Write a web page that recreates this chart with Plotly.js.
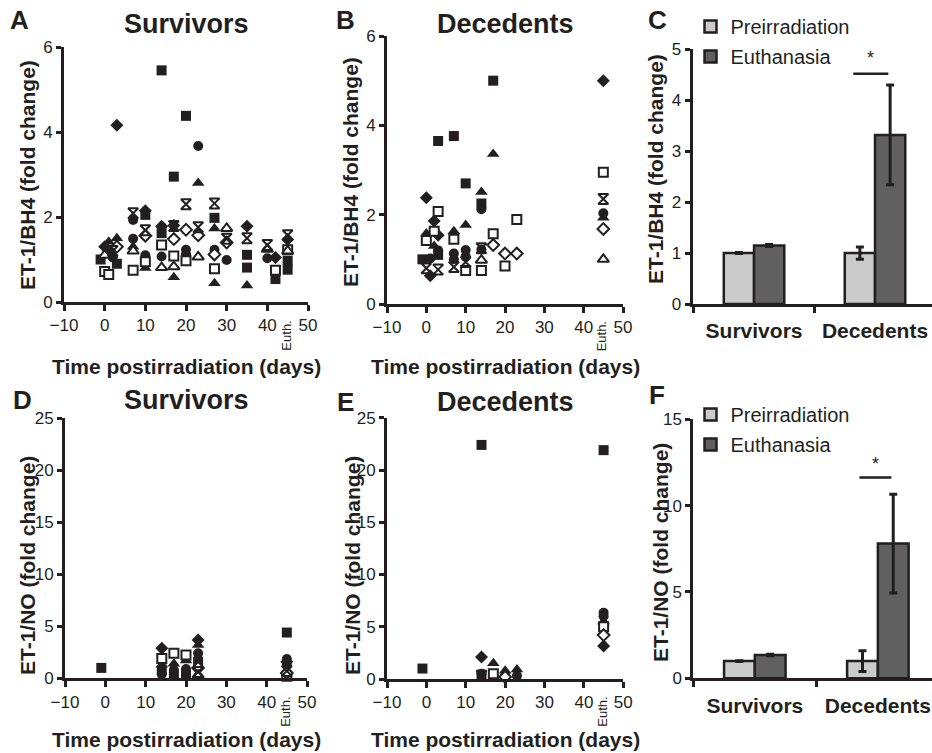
<!DOCTYPE html>
<html><head><meta charset="utf-8">
<script src="https://cdn.plot.ly/plotly-3.0.1.min.js"></script>
<style>html,body{margin:0;padding:0;background:#fff;}#chart{width:932px;height:753px;}</style>
</head><body><div id="chart"></div>
<script>
// ---------------- DATA ----------------
// Panel A: ET-1/BH4, survivors (day, fold change, animal symbol)
const bh4SurvDay = [-1,0,1,1,3,0,2,3,2,0,3,1, 3, 7,7,7,7,7,7, 10,10,10,10,10,10,10, 14,14,14,14,14,14, 17,17,17,17,17,17,17, 20,20,20,20,20,20, 23,23,23,23,23, 27,27,27,27,27,27,27, 30,30,30,30, 35,35,35,35,35, 40,40,40, 42,42,42, 45,45,45,45,45,45];
const bh4SurvVal = [1.0,0.72,0.65,1.42,1.5,1.3,1.2,0.9,1.05,1.1,1.3,1.2, 4.16, 2.09,1.93,1.49,1.3,1.2,0.75, 2.15,2.05,1.69,1.56,1.1,0.95,0.8, 5.45,1.78,1.62,1.34,1.07,0.81, 2.95,1.8,1.79,1.48,1.08,0.83,0.58, 4.38,2.3,1.7,1.23,0.97,1.05, 3.67,2.8,1.76,1.57,1.06, 2.32,1.98,1.73,1.23,1.12,0.78,0.44, 1.73,1.49,1.4,0.99, 1.78,1.5,1.11,0.81,0.39, 1.34,1.24,1.03, 1.05,0.75,0.54, 1.57,1.47,1.23,1.2,0.97,0.76];
const bh4SurvId  = ['sq','osq','osq','tr','tr','di','ast','sq','ci','otr','odi','di', 'di', 'ast','ci','ci','tr','otr','osq', 'di','sq','ast','odi','ci','osq','tr', 'sq','di','sq','osq','ci','otr', 'sq','di','ast','odi','osq','otr','tr', 'sq','ast','odi','ci','osq','sq', 'ci','tr','ast','odi','otr', 'ast','sq','tr','ci','odi','osq','tr', 'otr','ast','odi','ci', 'di','ast','sq','sq','tr', 'ast','otr','ci', 'di','osq','sq', 'ast','di','osq','otr','sq','sq'];

// Panel B: ET-1/BH4, decedents
const bh4DecDay = [-1,1,0,0,0,0,1,2,2,3,3,3,3,3,3,2, 7,7,7,7,7,7, 10,10,10,10,10,10, 14,14,14,14,14,14,14, 17,17,17,17, 20,20, 23,23, 45,45,45,45,45,45,45];
const bh4DecVal = [1.0,1.02,2.38,1.58,1.42,0.8,0.63,1.86,1.63,2.07,1.54,3.65,1.2,1.1,0.77,1.3, 3.76,1.63,1.45,1.13,1.0,0.83, 2.7,1.77,1.21,1.06,0.94,0.75, 2.51,2.25,2.12,1.25,1.22,0.98,0.75, 5.0,3.36,1.57,1.32, 1.13,0.85, 1.89,1.13, 5.0,2.95,2.35,2.03,1.93,1.68,1.0];
const bh4DecId  = ['sq','ci','di','tr','osq','ast','di','di','osq','osq','di','sq','ci','sq','ast','tr', 'sq','tr','osq','ci','ci','ast', 'sq','tr','ci','ci','ast','osq', 'tr','sq','ci','ast','ci','otr','osq', 'sq','tr','osq','odi', 'odi','osq', 'osq','odi', 'di','osq','ast','ci','tr','odi','otr'];

// Panel D: ET-1/NO, survivors
const noSurvDay = [-1, 14,14,14,14,14, 17,17,17,17, 20,20,20,20, 23,23,23,23,23,23,23, 45,45,45,45,45,45,45];
const noSurvVal = [1.0, 2.9,1.9,1.3,0.8,0.4, 2.4,1.4,0.8,0.3, 2.24,1.7,0.9,0.3, 3.68,3.2,2.4,1.6,1.0,0.6,0.3, 4.4,1.85,1.6,1.3,0.7,0.5,0.2];
const noSurvId  = ['sq', 'di','osq','tr','sq','ci', 'osq','tr','ci','sq', 'osq','tr','ci','sq', 'di','tr','ci','sq','odi','ast','otr', 'sq','ci','di','ci','ast','odi','osq'];

// Panel E: ET-1/NO, decedents
const noDecDay = [-1, 14,14,14,14,14, 17,17,17, 20,20,20, 23,23, 45,45,45,45,45,45,45];
const noDecVal = [1.0, 22.4,2.1,0.5,0.4,0.3, 1.5,0.5,0.3, 0.8,0.3,0.2, 0.9,0.3, 21.9,6.35,6.0,5.5,5.0,4.2,3.15];
const noDecId  = ['sq', 'sq','di','ci','sq','ast', 'tr','osq','ci', 'tr','ci','odi', 'tr','ci', 'sq','ci','ci','tr','osq','odi','di'];

// Panels C and F: means with error
const groups = ['Survivors', 'Decedents'];
const bh4Pre = [1.0, 1.0];   const bh4PreErr = [0.01, 0.12];
const bh4Eut = [1.15, 3.32]; const bh4EutErr = [0.02, 0.98];
const noPre  = [1.0, 1.0];   const noPreErr  = [0.02, 0.6];
const noEut  = [1.35, 7.8];  const noEutErr  = [0.04, 2.86];
const seriesNames = ['Preirradiation', 'Euthanasia'];
const xTicks = [-10, 0, 10, 20, 30, 40, 50];

// ---------------- STYLE ----------------
const FF = '"Liberation Sans", Arial, Helvetica, sans-serif';
const INK = '#231f20';
const W = 932, H = 753;
const px = v => v / W, py = v => 1 - v / H;

const symStyle = {
  sq:  {symbol: 'square', size: 10, color: INK, line: {width: 0}},
  di:  {symbol: 'diamond', size: 10, color: INK, line: {width: 0}},
  ci:  {symbol: 'circle', size: 10, color: INK, line: {width: 0}},
  tr:  {symbol: 'triangle-up', size: 11, color: INK, line: {width: 0}},
  osq: {symbol: 'square', size: 9, color: 'white', line: {color: INK, width: 2}},
  odi: {symbol: 'diamond', size: 9, color: 'white', line: {color: INK, width: 2}},
  otr: {symbol: 'triangle-up', size: 10, color: 'white', line: {color: INK, width: 2}},
  ast: {symbol: 'hourglass-open', size: 10, color: INK, line: {color: INK, width: 2}}
};
const symOrder = ['sq', 'di', 'ci', 'tr', 'osq', 'odi', 'otr', 'ast'];

function scatterTraces(days, vals, ids, xa, ya) {
  const out = [];
  symOrder.forEach(k => {
    const xs = [], ys = [];
    ids.forEach((id, i) => { if (id === k) { xs.push(days[i]); ys.push(vals[i]); } });
    if (xs.length) out.push({type: 'scatter', mode: 'markers', x: xs, y: ys, xaxis: xa, yaxis: ya,
      marker: symStyle[k], showlegend: false, cliponaxis: false, hoverinfo: 'x+y'});
  });
  return out;
}

function barTraces(pre, preErr, eut, eutErr, xa, ya, leg, grpSuffix) {
  const common = {type: 'bar', x: groups, xaxis: xa, yaxis: ya, legend: leg};
  return [
    Object.assign({}, common, {name: seriesNames[0], y: pre, legendgroup: 'p' + grpSuffix,
      marker: {color: '#cbcbcb', line: {color: INK, width: 2.5}},
      error_y: {type: 'data', array: preErr, visible: true, color: INK, thickness: 3, width: 4}}),
    Object.assign({}, common, {name: seriesNames[1], y: eut, legendgroup: 'e' + grpSuffix,
      marker: {color: '#606060', line: {color: INK, width: 2.5}},
      error_y: {type: 'data', array: eutErr, visible: true, color: INK, thickness: 3, width: 4}})
  ];
}

const data = [].concat(
  scatterTraces(bh4SurvDay, bh4SurvVal, bh4SurvId, 'x', 'y'),
  scatterTraces(bh4DecDay, bh4DecVal, bh4DecId, 'x2', 'y2'),
  barTraces(bh4Pre, bh4PreErr, bh4Eut, bh4EutErr, 'x3', 'y3', 'legend', 'c'),
  scatterTraces(noSurvDay, noSurvVal, noSurvId, 'x4', 'y4'),
  scatterTraces(noDecDay, noDecVal, noDecId, 'x5', 'y5'),
  barTraces(noPre, noPreErr, noEut, noEutErr, 'x6', 'y6', 'legend2', 'f')
);

const tickFont = {family: FF, size: 17, color: INK};
function timeAxis(d0, d1, anchor) {
  return {domain: [px(d0), px(d1)], range: [-10, 50], anchor: anchor, tickvals: xTicks,
    showline: true, linewidth: 3, linecolor: INK, ticks: 'outside', ticklen: 6, tickwidth: 3, tickcolor: INK,
    tickfont: tickFont, showgrid: false, zeroline: false, fixedrange: true};
}
function valAxis(y0, y1, maxV, dt, anchor) {
  return {domain: [py(y0), py(y1)], range: [0, maxV], dtick: dt, tick0: 0, anchor: anchor,
    showline: true, linewidth: 3, linecolor: INK, ticks: 'outside', ticklen: 5, tickwidth: 3, tickcolor: INK,
    tickfont: tickFont, showgrid: false, zeroline: false, fixedrange: true};
}
function catAxis(d0, r0, r1, anchor) {
  return {domain: [px(d0), 1], type: 'category', range: [r0, r1], anchor: anchor, tickson: 'boundaries',
    showline: true, linewidth: 3, linecolor: INK, ticks: 'outside', ticklen: 6, tickwidth: 3, tickcolor: INK,
    tickfont: {family: FF, size: 21, color: INK, weight: 'bold'}, ticklabelstandoff: 6,
    showgrid: false, zeroline: false, fixedrange: true};
}

const ann = [];
function txt(t, x, y, size, bold, angle, extra) {
  ann.push(Object.assign({text: bold ? '<b>' + t + '</b>' : t, x: px(x), y: py(y), xref: 'paper', yref: 'paper',
    showarrow: false, xanchor: 'center', yanchor: 'middle', textangle: angle || 0,
    font: {family: FF, size: size, color: INK}}, extra || {}));
}
// panel letters
txt('A', 19, 20, 26, true); txt('B', 345, 20, 26, true); txt('C', 657, 20, 26, true);
txt('D', 22, 400, 26, true); txt('E', 345, 402, 26, true); txt('F', 657, 395, 26, true);
// panel titles
txt('Survivors', 186, 24, 27, true); txt('Decedents', 505, 24, 27, true);
txt('Survivors', 186, 400, 27, true); txt('Decedents', 505, 402, 27, true);
// y titles
txt('ET-1/BH4 (fold change)', 27, 175, 21, true, -90);
txt('ET-1/BH4 (fold change)', 350, 172, 21, true, -90);
txt('ET-1/BH4 (fold change)', 655, 169, 21, true, -90);
txt('ET-1/NO (fold change)', 27, 566, 21, true, -90);
txt('ET-1/NO (fold change)', 352, 566, 21, true, -90);
txt('ET-1/NO (fold change)', 660, 553, 21, true, -90);
// x titles
txt('Time postirradiation (days)', 186, 366, 21, true);
txt('Time postirradiation (days)', 505, 366, 21, true);
txt('Time postirradiation (days)', 186, 739, 21, true);
txt('Time postirradiation (days)', 505, 739, 21, true);
// Euth. tick labels
[['x', 336], ['x2', 336], ['x4', 712], ['x5', 712]].forEach(([xa, cy]) => {
  ann.push({text: 'Euth.', x: 44.5, xref: xa, y: py(cy), yref: 'paper', showarrow: false,
    textangle: -90, xanchor: 'center', yanchor: 'middle', font: {family: FF, size: 13, color: INK}});
});
// significance stars
ann.push({text: '*', x: 0.96, xref: 'x3', y: 4.6, yref: 'y3', yanchor: 'bottom', showarrow: false, font: {family: FF, size: 18, color: INK}});
ann.push({text: '*', x: 0.98, xref: 'x6', y: 11.7, yref: 'y6', yanchor: 'bottom', showarrow: false, font: {family: FF, size: 18, color: INK}});

const shapes = [
  {type: 'line', xref: 'x3', yref: 'y3', x0: 0.82, x1: 1.11, y0: 4.52, y1: 4.52, line: {color: INK, width: 2.5}},
  {type: 'line', xref: 'x6', yref: 'y6', x0: 0.85, x1: 1.11, y0: 11.63, y1: 11.63, line: {color: INK, width: 2.5}}
];

const legendBase = {xanchor: 'left', yanchor: 'top', bgcolor: 'rgba(0,0,0,0)', borderwidth: 0,
  font: {family: FF, size: 20, color: INK}, itemwidth: 30, traceorder: 'grouped', tracegroupgap: 1};

const layout = {
  width: W, height: H, margin: {l: 0, r: 0, t: 0, b: 0, pad: 0},
  paper_bgcolor: 'white', plot_bgcolor: 'white', showlegend: true,
  barmode: 'group', bargap: 0.5, bargroupgap: 0,
  font: {family: FF, color: INK},
  xaxis: timeAxis(64, 308, 'y'),   yaxis: valAxis(302, 47, 6, 2, 'x'),
  xaxis2: timeAxis(387, 623, 'y2'), yaxis2: valAxis(304, 36, 6, 2, 'x2'),
  xaxis3: catAxis(692.7, -0.507, 1.471, 'y3'), yaxis3: valAxis(304, 49.3, 5, 1, 'x3'),
  xaxis4: timeAxis(65, 307, 'y4'), yaxis4: valAxis(678.3, 418.3, 25, 5, 'x4'),
  xaxis5: timeAxis(387, 623.3, 'y5'), yaxis5: valAxis(679, 417.75, 25, 5, 'x5'),
  xaxis6: catAxis(693.3, -0.5, 1.44, 'y6'), yaxis6: valAxis(678.3, 419.3, 15, 5, 'x6'),
  legend: Object.assign({}, legendBase, {x: px(690.5), y: py(7)}),
  legend2: Object.assign({}, legendBase, {x: px(690.5), y: py(395)}),
  annotations: ann, shapes: shapes
};

Plotly.newPlot('chart', data, layout, {displayModeBar: false, staticPlot: true});
</script></body></html>
